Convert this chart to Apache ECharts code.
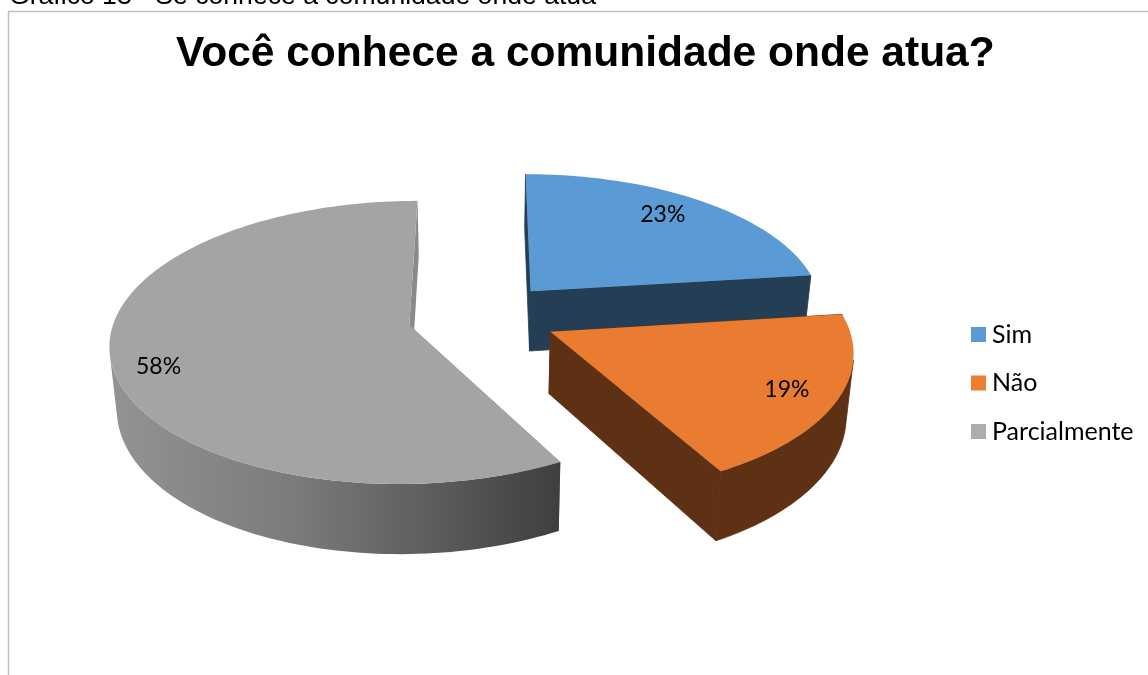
<!DOCTYPE html>
<html>
<head>
<meta charset="utf-8">
<style>html,body{margin:0;padding:0;background:#fff}#c{width:1148px;height:675px}</style>
<script src="https://cdn.jsdelivr.net/npm/echarts@6/dist/echarts.min.js"></script>
</head>
<body>
<div id="c"></div>
<script>
// Slice shares, in percent, clockwise from twelve o'clock
const categories = ['Sim', 'Não', 'Parcialmente'];
const shares = [23, 19, 58];
const topColors = ['#5b9bd5', '#ea7c31', '#a4a4a4'];
const sideColors = ['#243e55', '#5f3114', '#8a8a8a'];
const legendColors = ['#5b9bd5', '#ed7d31', '#adadad'];
// How far each slice is pulled out, and its radius, in disc units
const explosion = [0.24, 0.245, 0.255];
const sliceRadius = [0.98, 0.985, 0.98];
// Percent label placement: distance from the slice tip and turn off its bisector, in degrees
const labelRadius = [0.795, 0.824, 0.84];
const labelTurn = [-2.7, 0.8, -5.3];
// Painter's order: the orange slice overlaps the blue wall
const drawOrder = [0, 2, 1];

// Perspective camera for the disc
const view = { cx: 484, cy: 316, rx: 300, ry: 140, k: 0.125, height: 61, vanishX: 480, lean: 0.02 };

function project(X, Y) {
  const w = 1 + view.k * Y;
  return { x: view.cx + view.rx * X / w, y: view.cy - view.ry * Y / w, w };
}
function drop(p) {
  return [p.x + (view.vanishX - p.x) * view.lean, p.y + view.height / p.w];
}
function total() { return shares.reduce((a, b) => a + b, 0); }

function renderSlice(idx) {
  return function (params, api) {
    const value = api.value(0);
    const before = shares.slice(0, idx).reduce((a, b) => a + b, 0);
    const a0 = before / total() * Math.PI * 2;
    const a1 = a0 + value / total() * Math.PI * 2;
    const mid = (a0 + a1) / 2;
    const ox = explosion[idx] * Math.sin(mid);
    const oy = explosion[idx] * Math.cos(mid);
    const r = sliceRadius[idx];
    const apex = project(ox, oy);
    const arc = [];
    const steps = Math.max(24, Math.round((a1 - a0) * 40));
    for (let i = 0; i <= steps; i++) {
      const t = a0 + (a1 - a0) * i / steps;
      arc.push(project(ox + r * Math.sin(t), oy + r * Math.cos(t)));
    }
    const first = arc[0], last = arc[arc.length - 1];
    const xy = p => [p.x, p.y];
    const side = sideColors[idx];
    // The large slice's rim darkens from left to right across the page
    const wallFill = idx === 2
      ? new echarts.graphic.LinearGradient(118, 0, 558, 0, [
          { offset: 0, color: '#929292' },
          { offset: 0.4, color: '#7b7b7b' },
          { offset: 0.7, color: '#5e5e5e' },
          { offset: 1, color: '#3f3f3f' }
        ], true)
      : side;
    const poly = (points, fill, stroke) => ({
      type: 'polygon', shape: { points },
      style: { fill, stroke: stroke || null, lineWidth: stroke ? 0.8 : 0 }
    });
    // Plain walls get a hairline of their own colour so their joins stay closed
    const seam = idx === 2 ? null : side;
    // Keep only the stretch of rim that faces the viewer, so its ends follow the extrusion
    const facing = [];
    for (let i = 0; i < steps; i++) {
      const ex = arc[i + 1].x - arc[i].x, ey = arc[i + 1].y - arc[i].y;
      const d = drop(arc[i]);
      if (ex * (d[1] - arc[i].y) - ey * (d[0] - arc[i].x) < 0) {
        if (!facing.length) facing.push(arc[i]);
        facing.push(arc[i + 1]);
      }
    }
    const rim = facing.length
      ? [poly(facing.map(xy).concat(facing.slice().reverse().map(drop)), wallFill, seam)]
      : [];
    const la = mid + labelTurn[idx] * Math.PI / 180;
    const lp = project(ox + labelRadius[idx] * Math.sin(la), oy + labelRadius[idx] * Math.cos(la));
    return {
      type: 'group',
      children: [
        poly([xy(apex), xy(first), drop(first), drop(apex)], side, seam),
        poly([xy(apex), xy(last), drop(last), drop(apex)], side, seam)
      ].concat(rim, [
        poly([xy(apex)].concat(arc.map(xy)), topColors[idx]),
        {
          type: 'text',
          x: lp.x, y: lp.y,
          style: {
            text: value + '%', fill: '#000',
            font: '23px Lato, "Open Sans", sans-serif',
            align: 'center', verticalAlign: 'middle'
          }
        }
      ])
    };
  };
}

const chart = echarts.init(document.getElementById('c'), null, { renderer: 'canvas' });
chart.setOption({
  animation: false,
  backgroundColor: '#fff',
  title: {
    text: 'Você conhece a comunidade onde atua?',
    left: 171, top: 28,
    textStyle: { fontFamily: 'Liberation Sans', fontWeight: 'bold', fontSize: 42.5, color: '#000' }
  },
  legend: {
    orient: 'vertical', left: 966, top: 317,
    icon: 'rect', itemWidth: 15, itemHeight: 15, itemGap: 23.5,
    data: categories,
    selectedMode: false,
    textStyle: { fontFamily: 'Lato', fontSize: 25, lineHeight: 25, color: '#000', padding: [0, 0, 0, 1] }
  },
  graphic: [
    { type: 'text', x: 9, y: -17, style: { text: 'Gráfico 13 - Se conhece a comunidade onde atua', font: '26.6px "Liberation Sans"', fill: '#000' } },
    { type: 'polyline', shape: { points: [[8.5, 675], [8.5, 11.5], [1148, 11.5]] }, style: { stroke: '#bfbfbf', lineWidth: 1.5, fill: null } }
  ],
  series: drawOrder.map(i => ({
    type: 'custom',
    name: categories[i],
    coordinateSystem: 'none',
    itemStyle: { color: legendColors[i] },
    renderItem: renderSlice(i),
    data: [[shares[i]]],
    silent: true
  }))
});
</script>
</body>
</html>
